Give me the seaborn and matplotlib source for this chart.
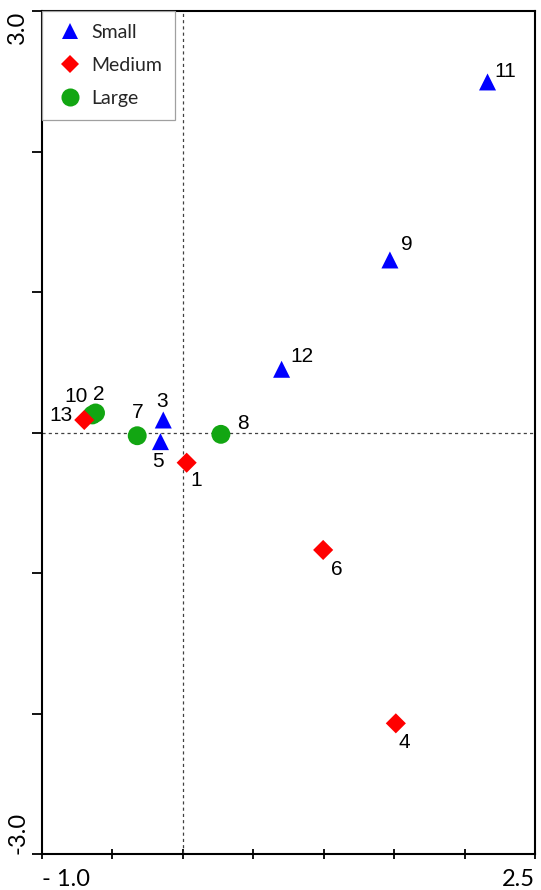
import matplotlib
matplotlib.use("Agg")
import matplotlib.pyplot as plt
from matplotlib.lines import Line2D
import pandas as pd
import seaborn as sns

# Site scores on the first two ordination axes
site_ids = ["1", "2", "3", "4", "5", "6", "7", "8", "9", "10", "11", "12", "13"]
axis1 = [0.027, -0.620, -0.139, 1.512, -0.159, 0.996, -0.324, 0.270, 1.470, -0.642, 2.163, 0.701, -0.700]
axis2 = [-0.215, 0.139, 0.089, -2.070, -0.065, -0.836, -0.023, -0.013, 1.228, 0.125, 2.495, 0.450, 0.089]
size_class = ["Medium", "Large", "Small", "Medium", "Small", "Medium", "Large", "Large",
              "Small", "Large", "Small", "Small", "Medium"]

classes = ["Small", "Medium", "Large"]
class_colors = {"Small": "#0000ff", "Medium": "#ff0000", "Large": "#12a612"}
class_markers = {"Small": "^", "Medium": "D", "Large": "o"}
class_sizes = {"Small": 150, "Medium": 105, "Large": 185}

x_tick_labels = ["- 1.0", "", "", "", "", "", "", "2.5"]
y_tick_labels = ["-3.0", "", "", "", "", "", "3.0"]

# label offsets (points) relative to each site marker
label_offsets = {
    "1": (7, -13), "2": (2, 13.5), "3": (-1, 13), "4": (6, -13.5), "5": (-1.5, -14.5),
    "6": (9.5, -14), "7": (0, 16.5), "8": (16, 8), "9": (12, 11), "10": (-12, 13),
    "11": (13, 7.5), "12": (15, 9), "13": (-16.5, 3.5),
}

df = pd.DataFrame({"site": site_ids, "x": axis1, "y": axis2, "cls": size_class})

sns.set_style("ticks")
plt.rcParams["font.family"] = ["Liberation Sans", "DejaVu Sans"]
tick_font = ["Liberation Sans Narrow", "Lato", "DejaVu Sans"]
legend_font = ["Lato", "DejaVu Sans"]

fig = plt.figure(figsize=(5.41, 8.90), dpi=100)
ax = fig.add_axes([42 / 541, 36 / 890, 493 / 541, 843 / 890])

# reference lines through the origin
ax.axvline(0, color="#404040", lw=0.9, ls=(0, (2.5, 2.5)), zorder=1)
ax.axhline(0, color="#404040", lw=0.9, ls=(0, (2.5, 2.5)), zorder=1)

sns.scatterplot(data=df, x="x", y="y", hue="cls", style="cls", size="cls",
                hue_order=classes, style_order=classes, size_order=classes,
                palette=class_colors, markers=class_markers, sizes=class_sizes,
                linewidth=0, legend=False, ax=ax, zorder=3)

for sid, xv, yv in zip(site_ids, axis1, axis2):
    dx, dy = label_offsets[sid]
    ax.annotate(sid, (xv, yv), xytext=(dx, dy), textcoords="offset points",
                ha="center", va="center", fontsize=15, color="black",
                family=["Liberation Sans", "DejaVu Sans"], zorder=4)

ax.set_xlim(-1.0, 2.5)
ax.set_ylim(-3.0, 3.0)
ax.set_xlabel("")
ax.set_ylabel("")

x_ticks = [-1.0 + 0.5 * i for i in range(8)]
y_ticks = [-3.0 + 1.0 * i for i in range(7)]
ax.set_xticks(x_ticks)
ax.set_yticks(y_ticks)
ax.set_xticklabels(x_tick_labels, family=tick_font, fontsize=17)
ax.set_yticklabels(y_tick_labels, family=tick_font, fontsize=17, rotation=90)

ax.tick_params(axis="x", direction="inout", length=7, width=1.3, pad=7, colors="black")
ax.tick_params(axis="y", direction="out", length=7, width=1.3, pad=3, colors="black")

xl = ax.get_xticklabels()
xl[0].set_ha("left")
xl[-1].set_ha("right")
yl = ax.get_yticklabels()
yl[0].set_va("bottom")
yl[-1].set_va("top")

for side in ["left", "bottom", "top", "right"]:
    ax.spines[side].set_visible(True)
    ax.spines[side].set_color("black")
    ax.spines[side].set_linewidth(1.5)

legend_marker_size = {"Small": 11, "Medium": 9, "Large": 13}
handles = [Line2D([], [], marker=class_markers[c], color=class_colors[c], ls="none",
                  markersize=legend_marker_size[c], markeredgewidth=0)
           for c in classes]
leg = ax.legend(handles, classes, loc="upper left", bbox_to_anchor=(0, 1), borderaxespad=0,
                frameon=True, fancybox=False, edgecolor="#a0a0a0", framealpha=1,
                prop={"family": legend_font, "size": 14},
                labelspacing=0.82, handletextpad=0.3, borderpad=0.68, handlelength=1.55)
leg.get_frame().set_linewidth(0.9)
leg.set_zorder(5)

fig.savefig("out.png", dpi=100)
